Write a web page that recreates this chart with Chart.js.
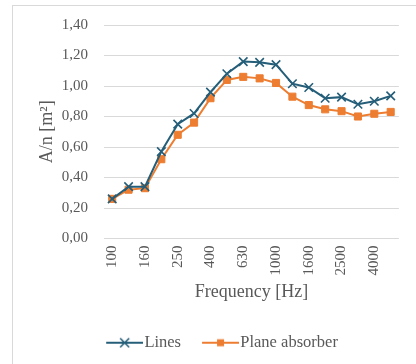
<!DOCTYPE html>
<html>
<head>
<meta charset="utf-8">
<script src="https://cdn.jsdelivr.net/npm/chart.js@4"></script>
<style>
html,body{margin:0;padding:0;background:#fff;}
#wrap{position:relative;width:416px;height:364px;}
</style>
</head>
<body>
<div id="wrap"><canvas id="c" width="416" height="364"></canvas></div>
<script>
const frequencies = ['100','125','160','200','250','315','400','500','630','800','1000','1250','1600','2000','2500','3150','4000','5000'];
const linesValues = [0.26,0.34,0.34,0.57,0.75,0.82,0.96,1.08,1.16,1.155,1.14,1.015,0.99,0.92,0.927,0.88,0.90,0.935];
const planeValues = [0.26,0.32,0.33,0.52,0.68,0.76,0.92,1.04,1.06,1.05,1.02,0.93,0.875,0.847,0.835,0.80,0.818,0.83];
const yTicks = [0,0.2,0.4,0.6,0.8,1.0,1.2,1.4];

const BLUE = '#255E79';
const ORANGE = '#ED7D31';
const TEXT = '#595959';
const FONT = "'Liberation Serif', 'Times New Roman', serif";

function legendIcon(color, kind){
  const W = 55, H = 14;
  const cv = document.createElement('canvas');
  cv.width = W; cv.height = H;
  const g = cv.getContext('2d');
  const x0 = 18, x1 = 55, cy = H/2;
  g.strokeStyle = color; g.lineWidth = 2;
  g.beginPath(); g.moveTo(x0, cy); g.lineTo(x1, cy); g.stroke();
  const cx = (x0 + x1) / 2;
  if (kind === 'x') {
    g.lineWidth = 1.6;
    g.beginPath();
    g.moveTo(cx-4.5, cy-4.5); g.lineTo(cx+4.5, cy+4.5);
    g.moveTo(cx+4.5, cy-4.5); g.lineTo(cx-4.5, cy+4.5);
    g.stroke();
  } else {
    g.fillStyle = color;
    g.fillRect(cx-3.5, cy-3.5, 7, 7);
  }
  return cv;
}
const icons = [legendIcon(BLUE,'x'), legendIcon(ORANGE,'sq')];

const frame = {
  id: 'frame',
  beforeDraw(chart){
    const ctx = chart.ctx;
    ctx.save();
    ctx.fillStyle = '#fff';
    ctx.fillRect(0,0,chart.width,chart.height);
    ctx.strokeStyle = '#d9d9d9';
    ctx.lineWidth = 1;
    ctx.strokeRect(12.5, 5.5, 430, 400);
    ctx.restore();
  }
};

new Chart(document.getElementById('c'), {
  type: 'line',
  data: {
    labels: frequencies,
    datasets: [
      {label: 'Lines', data: linesValues, borderColor: BLUE, backgroundColor: BLUE,
       borderWidth: 2, pointStyle: 'crossRot', pointRadius: 6, pointBorderWidth: 1.6,
       pointBorderColor: BLUE, tension: 0},
      {label: 'Plane absorber', data: planeValues, borderColor: ORANGE, backgroundColor: ORANGE,
       borderWidth: 2, pointStyle: 'rect', pointRadius: 5, pointBorderWidth: 1,
       pointBackgroundColor: ORANGE, pointBorderColor: ORANGE, tension: 0}
    ]
  },
  options: {
    responsive: false,
    animation: false,
    layout: {padding: {left: 28, top: 25, right: 11, bottom: 3}},
    plugins: {
      tooltip: {enabled: false},
      legend: {
        position: 'bottom',
        labels: {
          usePointStyle: true,
          pointStyleWidth: 41,
          padding: 10,
          color: TEXT,
          font: {family: FONT, size: 16.5},
          generateLabels(chart){
            const items = Chart.defaults.plugins.legend.labels.generateLabels(chart);
            items.forEach((it,i)=>{ it.pointStyle = icons[i]; });
            return items;
          }
        }
      }
    },
    scales: {
      x: {
        offset: true,
        grid: {display: false, drawTicks: false},
        border: {display: false},
        ticks: {
          autoSkip: false, minRotation: 90, maxRotation: 90, padding: 7,
          color: TEXT, font: {family: FONT, size: 15},
          callback(v, i){ return i % 2 === 0 ? frequencies[i] : ''; }
        },
        title: {display: true, text: 'Frequency [Hz]', color: TEXT,
                font: {family: FONT, size: 18}, padding: {top: 0, bottom: 21}},
        afterFit(s){ s.height = 86; }
      },
      y: {
        min: 0, max: 1.4,
        afterBuildTicks(s){ s.ticks = yTicks.map(v=>({value:v})); },
        grid: {color: '#d9d9d9', lineWidth: 1, drawTicks: false},
        border: {display: false},
        ticks: {
          padding: 16, color: TEXT, font: {family: FONT, size: 15},
          callback(v){ return v.toFixed(2).replace('.', ','); }
        },
        title: {display: true, text: 'A/n [m²]', color: TEXT,
                font: {family: FONT, size: 18, lineHeight: 0.9}, padding: {top: 11, bottom: 0}},
        afterFit(s){ s.width = 76; }
      }
    }
  },
  plugins: [frame]
});
</script>
</body>
</html>
